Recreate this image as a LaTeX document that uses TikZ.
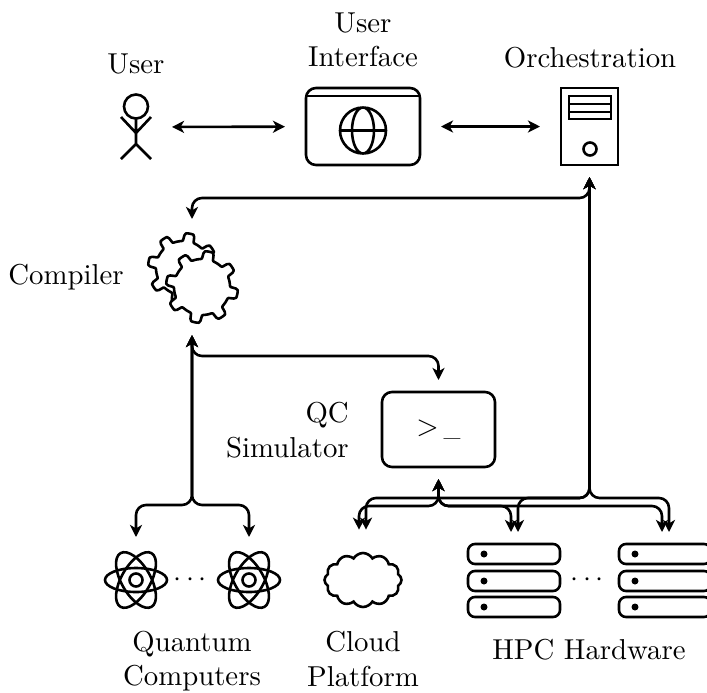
\documentclass[tikz,border=0pt]{standalone}
\usepackage{amsmath}
\usepackage{amssymb}
\usepackage{xcolor}
\usepackage{tikz}
\usetikzlibrary{arrows.meta}
\usetikzlibrary{calc}
\usetikzlibrary{positioning}
\usetikzlibrary{shapes.symbols}
\newcommand{\px}{0.0122cm}
\tikzset{>={Stealth[length=4.2pt,width=4.2pt,inset=1.2pt]}}
\tikzset{
    every path/.style={line width=0.9pt},
    flow/.style={<->,rounded corners=10*\px,shorten <=12*\px,shorten >=12*\px},
    link/.style={<->,shorten <=21*\px,shorten >=21*\px},
    icon/.style={minimum width=#1*\px,inner sep=0pt,outer sep=0pt},
    label/.style={align=center,inner sep=0pt},
    pics/usericon/.style={code={
        \draw (0,-20.5) circle (12);
        \draw (0,-8.5) -- (0,17) (-15,-10) -- (0,6) -- (15,-10) (-15,32) -- (0,17) -- (15,32);
    }},
    pics/atomicon/.style={code={
        \draw (0,0) ellipse (31 and 12);
        \foreach \ang in {60,120}
            \draw[rotate=\ang] (0,0) ellipse (31 and 14.5);
        \draw (0,0) circle (6.5);
    }},
    pics/gearicon/.style={code={
        \draw[fill=white,line join=round] plot[smooth cycle,domain=0:357.5,samples=144]
            ({(#1+4*tanh(5*(sin(8*\x)-0.25)))*cos(\x)},{(#1+4*tanh(5*(sin(8*\x)-0.25)))*sin(\x)});
    }},
    pics/rackicon/.style={code={
        \foreach \row in {-37,-10,16}{
            \draw[rounded corners=7*\px] (-46,\row) rectangle (46,\row+20);
            \fill (-30,\row+10) circle (3.5);
        }
    }},
}

\begin{document}
\begin{tikzpicture}[x=\px,y=-\px]
    \useasboundingbox (0,0) rectangle (707,692);
    % icons
    \node[icon=30,minimum height=64*\px] (user) at (136,127) {};
    \pic at (user) {usericon};
    \node[icon=114,minimum height=77*\px,draw,rounded corners=10*\px] (ui) at (363,126.5) {};
    \draw (306,96) -- (420,96);
    \draw (363,130.5) circle (23) ellipse (11 and 23) (340,130.5) -- (386,130.5);
    \node[icon=57,minimum height=77*\px,draw] (orch) at (589.5,126.5) {};
    \draw (569,96) rectangle (611,119) (569,104) -- (611,104) (569,112) -- (611,112);
    \draw (590,149) circle (6.5);
    \node[icon=72,minimum height=92*\px] (gear) at (192,277) {};
    \pic at (183,268) {gearicon=31};
    \pic at (202,287) {gearicon=32};
    \node[icon=113,minimum height=75*\px,draw,rounded corners=10*\px] (sim) at (438.5,429.5) {$>$\,\scalebox{0.78}[1]{\_}};
    \node[icon=62,minimum height=62*\px] (atomA) at (136,580) {};
    \node[icon=62,minimum height=62*\px] (atomB) at (249,580) {};
    \pic at (atomA) {atomicon};
    \pic at (atomB) {atomicon};
    \node[inner sep=0pt] (atomdots) at (192.5,580) {$\cdots$};
    \node[cloud,draw,cloud puffs=12,cloud puff arc=120,aspect=1.5,minimum width=77*\px,minimum height=54*\px,inner sep=0pt] (cloud) at (363,580) {};
    \node[icon=92,minimum height=74*\px] (rackA) at (514,581) {};
    \node[icon=92,minimum height=74*\px] (rackB) at (665,581) {};
    \pic at (rackA) {rackicon};
    \pic at (rackB) {rackicon};
    \node[inner sep=0pt] (rackdots) at (589.5,580) {$\cdots$};
    % labels
    \node[label] (userlabel) at (136,64) {User};
    \node[label] (uilabel) at (363,40) {User\\Interface};
    \node[label] (orchlabel) at (590,58) {Orchestration};
    \node[label,anchor=east] (gearlabel) at (125,277) {Compiler};
    \node[label,align=right,anchor=east] (simlabel) at (350,430) {QC\\Simulator};
    \node[label] (atomlabel) at (192,661) {Quantum\\Computers};
    \node[label] (cloudlabel) at (363,659) {Cloud\\Platform};
    \node[label] (racklabel) at (589,650) {HPC Hardware};
    % bus heights
    \coordinate (topbus) at (0,198);
    \coordinate (simbus) at (0,356);
    \coordinate (hpcbus) at (0,498);
    \coordinate (lowbus) at (0,506);
    \coordinate (atombus) at (0,505);
    \coordinate (cloudleft) at ($(cloud.north)+(-4,-10)$);
    \coordinate (cloudright) at ($(cloud.north)+(3,-10)$);
    \coordinate (rackAleft) at ($(rackA.north)+(-3,0)$);
    \coordinate (rackAright) at ($(rackA.north)+(4,0)$);
    \coordinate (rackBleft) at ($(rackB.north)+(-3,0)$);
    \coordinate (rackBright) at ($(rackB.north)+(4,0)$);
    % connectors
    \draw[link] (user) -- (ui);
    \draw[link] (ui) -- (orch);
    \draw[flow] (orch.south) -- (orch.south |- topbus) -| (gear.north);
    \draw[flow] (gear.south) -- (gear.south |- simbus) -| (sim.north);
    \draw[flow] (gear.south) -- (gear.south |- atombus) -| (atomA.north);
    \draw[flow] (gear.south) -- (gear.south |- atombus) -| (atomB.north);
    \draw[flow] (orch.south) -- (orch.south |- hpcbus) -| (cloudright);
    \draw[flow] (orch.south) -- (orch.south |- hpcbus) -| (rackAright);
    \draw[flow] (orch.south) -- (orch.south |- hpcbus) -| (rackBright);
    \draw[flow] (sim.south) -- (sim.south |- lowbus) -| (cloudleft);
    \draw[flow] (sim.south) -- (sim.south |- lowbus) -| (rackAleft);
    \draw[flow] (sim.south) -- (sim.south |- lowbus) -| (rackBleft);
\end{tikzpicture}
\end{document}
